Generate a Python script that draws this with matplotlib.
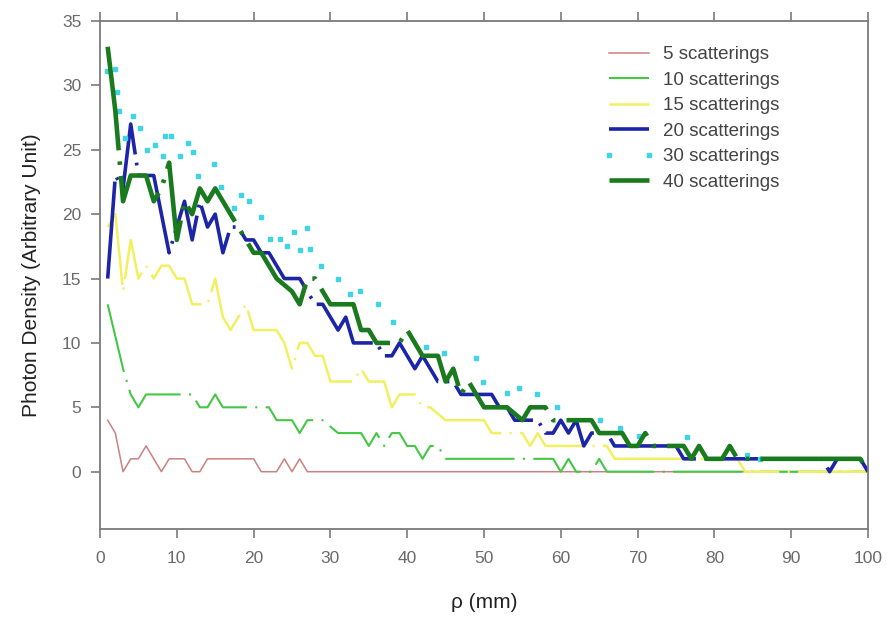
import matplotlib
matplotlib.use('Agg')
import matplotlib.pyplot as plt
import numpy as np

# Photon density vs distance rho
rho = list(range(1, 101))

dens_5 = [4, 3, 0, 1, 1, 2, 1, 0, 1, 1, 1, 0, 0, 1, 1, 1, 1, 1, 1, 1,
          0, 0, 0, 1, 0, 1] + [0] * 74

dens_10 = [13, 10.5, 8, 6, 5, 6, 6, 6, 6, 6, 6, 6, 5, 5, 6, 5, 5, 5, 5, 5,
           5, 5, 4, 4, 4, 3, 4, 4, 4, 3.5, 3, 3, 3, 3, 2, 3, 2, 3, 3, 2,
           2, 1, 2, 2, 1, 1, 1, 1, 1, 1, 1, 1, 1, 1, 1, 1, 1, 1, 1, 0,
           1, 0, 0, 0, 1] + [0] * 35

dens_15 = [19, 20, 14, 18, 15, 16, 15, 16, 16, 15, 15, 13, 13, 13, 15, 12, 11, 12, 13, 11,
           11, 11, 11, 10, 8, 10, 10, 9, 9, 7, 7, 7, 7, 8, 7, 7, 7, 5, 6, 6,
           6, 5, 5, 4.5, 4, 4, 4, 4, 4, 4, 3, 3, 3, 3, 3, 2, 3, 2, 2, 2,
           2, 2, 2, 2, 2, 2, 1, 1, 1, 1, 1, 1, 1, 1, 1, 1, 1, 1, 1, 1,
           1, 1, 1] + [0] * 17

dens_20 = [15, 23, 22, 27, 23, 23, 23, 20, 17, 19, 21, 18, 21, 19, 20, 17, 19, 19, 18, 18,
           17, 17, 16, 15, 15, 15, 14, 13, 13, 12, 11, 12, 10, 10, 10, 10, 9, 9, 10, 9,
           8, 9, 8, 7, 7, 7, 6, 6, 6, 6, 6, 5, 5, 4, 4, 4, 4, 3, 3, 4,
           3, 4, 2, 3, 3, 3, 2, 2, 2, 2, 2, 2, 2, 2, 2, 1, 1, 1, 1, 1,
           1, 1, 1, 1, 1, 1, 1, 1, 1, 1, 1, 1, 1, 1, 0, 1, 1, 1, 1, 0]

# the 30-scattering curve only shows as dots, read where they sit
rho_30 = [0.9, 2.0, 2.2, 2.5, 3.3, 4.3, 5.2, 6.1, 7.2, 8.2, 8.5, 9.3, 10.4, 11.5, 12.1,
          12.8, 14.8, 15.8, 17.4, 18.4, 19.4, 21.0, 22.1, 23.4, 24.3, 25.2, 26.0, 26.9,
          27.4, 28.8, 31.0, 32.6, 33.9, 36.2, 38.2, 42.5, 44.8, 49.0, 49.9, 53.0, 54.5,
          56.9, 59.5, 65.1, 67.7, 70.2, 76.4, 84.3, 86.0]
dens_30 = [31.1, 31.3, 29.5, 28.0, 25.9, 27.6, 26.7, 25.0, 25.4, 24.5, 26.1, 26.1, 24.5,
           25.5, 24.8, 23.0, 23.9, 22.1, 20.5, 21.5, 21.0, 19.8, 18.1, 18.1, 17.5, 18.6,
           17.2, 18.9, 17.3, 16.0, 15.0, 13.8, 14.0, 13.0, 11.6, 9.7, 9.2, 8.8, 7.0, 6.1,
           6.5, 6.0, 5.0, 4.0, 3.4, 2.8, 2.7, 1.3, 1.0]

dens_40 = [33, 28, 21, 23, 23, 23, 21, 22, 24, 18, 21, 20, 22, 21, 22, 21, 20, 19, 18, 17,
           17, 16, 15, 14.5, 14, 13, 15, 15, 14, 13, 13, 13, 13, 11, 11, 10, 10, 10, 10, 11,
           10, 9, 9, 9, 7, 8, 6, 7, 6, 5, 5, 5, 5, 4.5, 4, 5, 5, 5, 4, 4,
           4, 4, 4, 4, 3, 3, 3, 3, 2, 2, 3, 2, 2, 2, 2, 2, 1, 2, 1, 1,
           1, 2, 1, 1, 1, 1, 1, 1, 1, 1, 1, 1, 1, 1, 1, 1, 1, 1, 1, 0]

labels = ['5 scatterings', '10 scatterings', '15 scatterings',
          '20 scatterings', '30 scatterings', '40 scatterings']

plt.rcParams['font.family'] = ['Liberation Sans', 'DejaVu Sans']
plt.rcParams['lines.scale_dashes'] = False

fig = plt.figure(figsize=(8.88, 6.2), dpi=100)
ax = fig.add_axes([100 / 888, 1 - 529 / 620, 768 / 888, 508 / 620])

ax.plot(rho, dens_5, color='#cc8080', lw=1.1, label=labels[0])
l10, = ax.plot(rho, dens_10, color='#44c844', lw=1.5, label=labels[1])
l15, = ax.plot(rho, dens_15, color='#f2f060', lw=1.8, label=labels[2])
l20, = ax.plot(rho, dens_20, color='#1c24a8', lw=2.6, label=labels[3])
ax.plot(rho_30, dens_30, ls='none', marker='s', ms=3, color='#40d4e6',
        label=labels[4])
l40, = ax.plot(rho, dens_40, color='#1a7a1e', lw=3.3, label=labels[5])

l10.set_dashes((50, 6, 1.5, 6))
l15.set_dashes((62, 6, 1.5, 6))
l20.set_dashes((70, 6, 2, 6))
l40.set_dashes((75, 8, 2.5, 8))

ax.set_xlim(0, 100)
ax.set_ylim(-4.45, 35)
ax.set_xticks(range(0, 101, 10))
ax.set_yticks(range(0, 36, 5))

for s in ax.spines.values():
    s.set_color('#7a7a7a')
    s.set_linewidth(1.3)

ax.tick_params(axis='both', direction='out', length=6.5, width=1.2,
               color='#7a7a7a', labelcolor='#6a6a6a', labelsize=12.5)
ax.tick_params(axis='x', top=True, pad=9)
ax.tick_params(axis='y', pad=7)

ax.set_xlabel('ρ (mm)', fontsize=15, color='#222222', labelpad=20)
ax.set_ylabel('Photon Density (Arbitrary Unit)', fontsize=15,
              color='#222222', labelpad=15)

leg = ax.legend(loc='upper left', bbox_to_anchor=(603 / 888, 1 - 46 / 620),
                bbox_transform=fig.transFigure, frameon=False, fontsize=13.5,
                handlelength=2.77, handletextpad=0.43, labelspacing=0.45,
                borderpad=0, borderaxespad=0, numpoints=2)
for t in leg.get_texts():
    t.set_color('#444444')

plt.savefig('out.png', dpi=100)
plt.close()
